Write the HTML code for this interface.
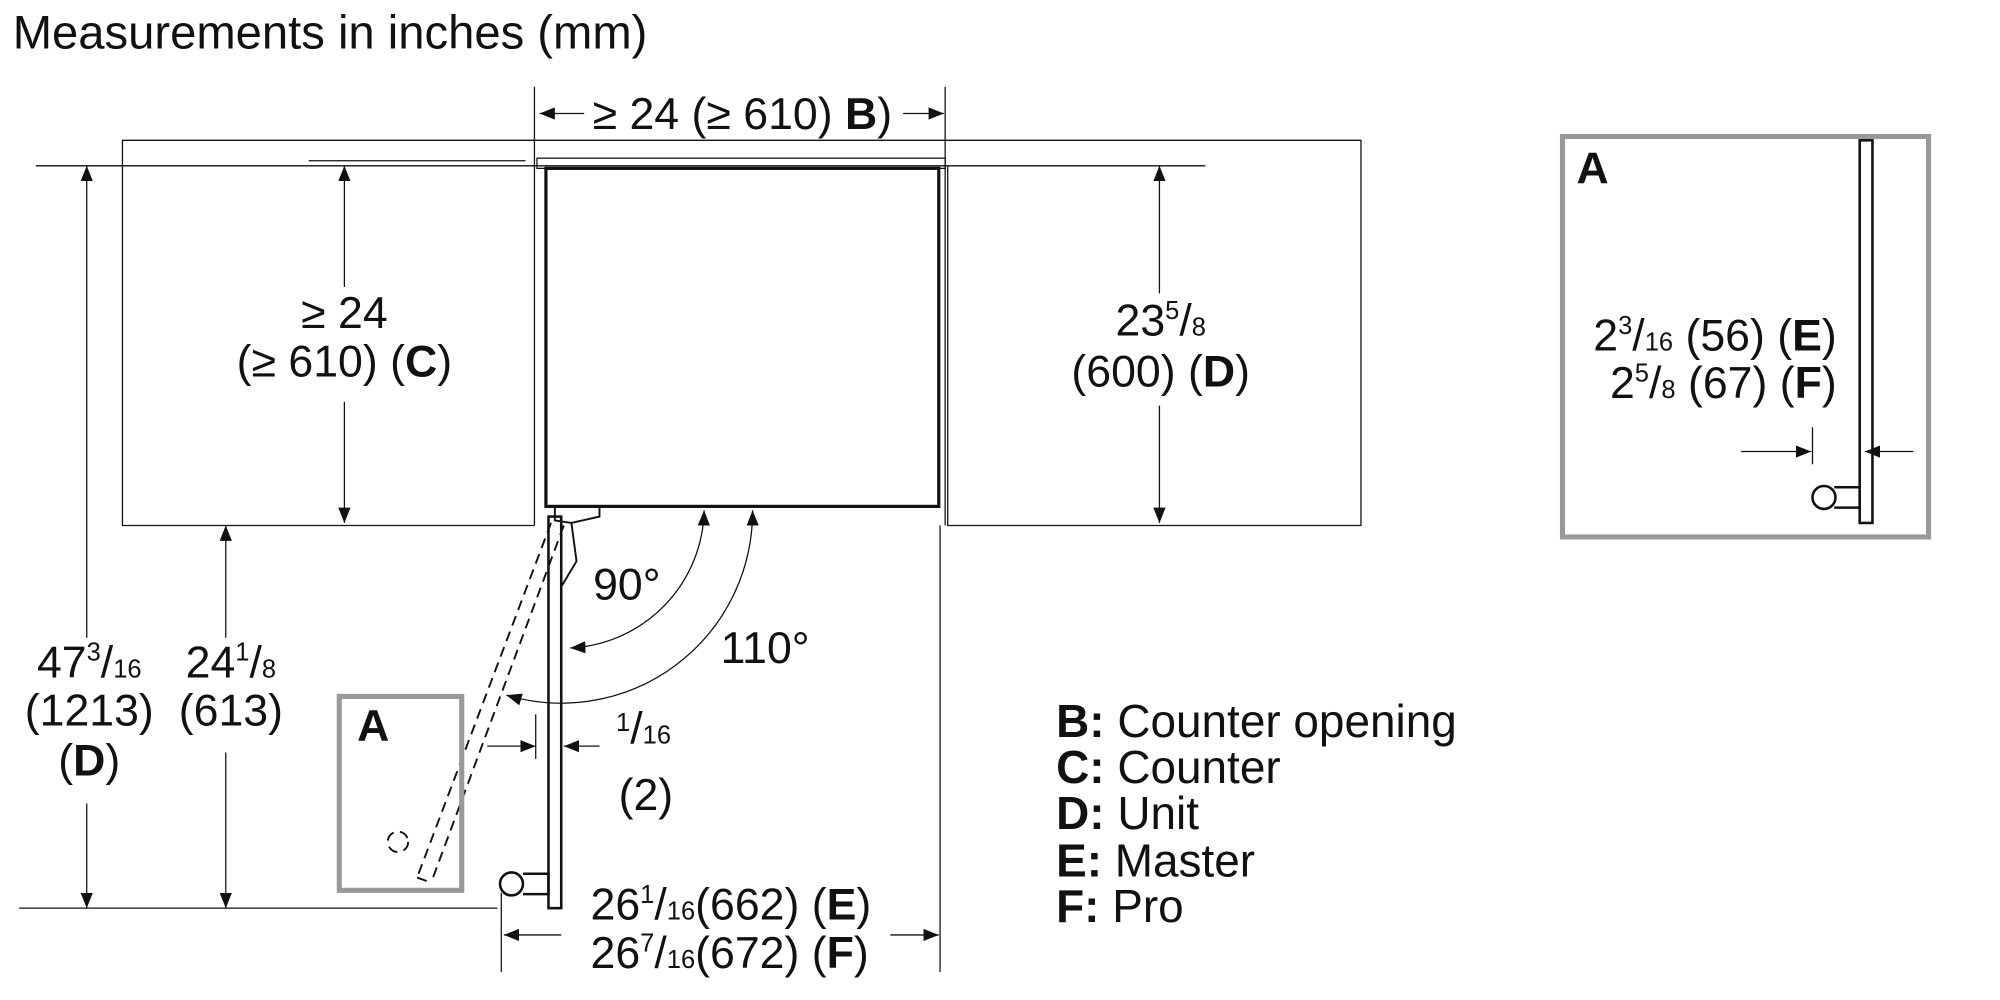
<!DOCTYPE html>
<html><head><meta charset="utf-8"><style>
html,body{margin:0;padding:0;background:#fff;}
svg{display:block;}
text{font-family:"Liberation Sans",sans-serif;fill:#111;}
.b{font-weight:bold;}
</style></head><body>
<svg width="2000" height="1000" viewBox="0 0 1568 784" preserveAspectRatio="none" xmlns="http://www.w3.org/2000/svg">
<defs>
<marker id="a" viewBox="0 0 10 10" refX="10" refY="5" markerWidth="12" markerHeight="12" markerUnits="userSpaceOnUse" orient="auto-start-reverse"><path d="M0,1 L10,5 L0,9 z" fill="#111"/></marker>
</defs>
<g stroke="#111" fill="none" stroke-width="1">
<polyline points="419,412 96,412 96,110 1067,110 1067,412 743,412 743,130"/>
<line x1="419" y1="68" x2="419" y2="412"/>
<line x1="741" y1="68" x2="741" y2="412"/>
<line x1="737" y1="412" x2="737" y2="762"/>
<line x1="28" y1="130" x2="945" y2="130"/>
<line x1="242" y1="126" x2="412" y2="126"/>
<rect x="421" y="124" width="320" height="8"/>
<rect x="428" y="132" width="308" height="265" stroke-width="2.5"/>
<line x1="423" y1="89" x2="458" y2="89" marker-start="url(#a)"/>
<line x1="708" y1="89" x2="740" y2="89" marker-end="url(#a)"/>
<line x1="270" y1="130" x2="270" y2="225" marker-start="url(#a)"/>
<line x1="270" y1="315" x2="270" y2="410" marker-end="url(#a)"/>
<line x1="909" y1="130" x2="909" y2="230" marker-start="url(#a)"/>
<line x1="909" y1="318" x2="909" y2="410" marker-end="url(#a)"/>
<line x1="68" y1="130" x2="68" y2="500" marker-start="url(#a)"/>
<line x1="68" y1="630" x2="68" y2="712" marker-end="url(#a)"/>
<line x1="177" y1="412" x2="177" y2="500" marker-start="url(#a)"/>
<line x1="177" y1="590" x2="177" y2="712" marker-end="url(#a)"/>
<line x1="15" y1="712" x2="390" y2="712"/>
<line x1="393" y1="700" x2="393" y2="762"/>
<line x1="395" y1="733" x2="440" y2="733" marker-start="url(#a)"/>
<line x1="698" y1="733" x2="736" y2="733" marker-end="url(#a)"/>
<rect x="430" y="405" width="10" height="307" stroke-width="2"/>
<path d="M410,685 h20 v16 h-20" stroke-width="2"/>
<circle cx="401" cy="693" r="9" stroke-width="2"/>
<path d="M435,397 L470,397 L470,405 L448,410 L435,408 z" stroke-width="1.5"/>
<path d="M448,410 L452,440 L440,460" stroke-width="1.5"/>
<g stroke-dasharray="8,5" stroke-width="1.5">
<line x1="432" y1="410" x2="327" y2="688"/>
<line x1="442" y1="412" x2="338" y2="692"/>
<line x1="327" y1="688" x2="338" y2="692"/>
<circle cx="312" cy="660" r="8"/>
</g>
<path d="M552,400 A110,110 0 0 1 447,508" marker-start="url(#a)" marker-end="url(#a)"/>
<path d="M590,400 A150,150 0 0 1 397,545" marker-start="url(#a)" marker-end="url(#a)"/>
<line x1="382" y1="585" x2="420" y2="585" marker-end="url(#a)"/>
<line x1="470" y1="585" x2="442" y2="585" marker-end="url(#a)"/>
<line x1="420" y1="560" x2="420" y2="595"/>
<rect x="266" y="546" width="96" height="152" stroke="#999" stroke-width="4"/>
<rect x="1225" y="107" width="287" height="314" stroke="#999" stroke-width="4"/>
<rect x="1458" y="110" width="10" height="300" stroke-width="2"/>
<path d="M1438,382 h20 v16 h-20" stroke-width="2"/>
<circle cx="1430" cy="390" r="9" stroke-width="2"/>
<line x1="1365" y1="354" x2="1420" y2="354" marker-end="url(#a)"/>
<line x1="1500" y1="354" x2="1462" y2="354" marker-end="url(#a)"/>
<line x1="1421" y1="335" x2="1421" y2="364"/>
</g>
<g font-size="35">
<text x="10" y="38" font-size="37">Measurements in inches (mm)</text>
<text x="582" y="101" text-anchor="middle">≥ 24 (≥ 610) <tspan class="b">B</tspan>)</text>
<text x="270" y="257" text-anchor="middle">≥ 24</text>
<text x="270" y="295" text-anchor="middle">(≥ 610) (<tspan class="b">C</tspan>)</text>
<text x="910" y="263" text-anchor="middle">23<tspan font-size="20" dy="-13">5</tspan><tspan dy="13">/</tspan><tspan font-size="20">8</tspan></text>
<text x="910" y="303" text-anchor="middle">(600) (<tspan class="b">D</tspan>)</text>
<text x="70" y="531" text-anchor="middle">47<tspan font-size="20" dy="-13">3</tspan><tspan dy="13">/</tspan><tspan font-size="20">16</tspan></text>
<text x="70" y="569" text-anchor="middle">(1213)</text>
<text x="70" y="608" text-anchor="middle">(<tspan class="b">D</tspan>)</text>
<text x="181" y="531" text-anchor="middle">24<tspan font-size="20" dy="-13">1</tspan><tspan dy="13">/</tspan><tspan font-size="20">8</tspan></text>
<text x="181" y="569" text-anchor="middle">(613)</text>
<text x="465" y="470">90°</text>
<text x="565" y="520">110°</text>
<text x="280" y="581" class="b">A</text>
<text x="1236" y="144" class="b">A</text>
<text x="483" y="583"><tspan font-size="20" dy="-10">1</tspan><tspan dy="10">/</tspan><tspan font-size="20">16</tspan></text>
<text x="485" y="635">(2)</text>
<text x="463" y="721">26<tspan font-size="20" dy="-13">1</tspan><tspan dy="13">/</tspan><tspan font-size="20">16</tspan>(662) (<tspan class="b">E</tspan>)</text>
<text x="463" y="759">26<tspan font-size="20" dy="-13">7</tspan><tspan dy="13">/</tspan><tspan font-size="20">16</tspan>(672) (<tspan class="b">F</tspan>)</text>
<text x="1440" y="275" text-anchor="end">2<tspan font-size="20" dy="-13">3</tspan><tspan dy="13">/</tspan><tspan font-size="20">16</tspan> (56) (<tspan class="b">E</tspan>)</text>
<text x="1440" y="312" text-anchor="end">2<tspan font-size="20" dy="-13">5</tspan><tspan dy="13">/</tspan><tspan font-size="20">8</tspan> (67) (<tspan class="b">F</tspan>)</text>
<g font-size="36">
<text x="828" y="578"><tspan class="b">B:</tspan> Counter opening</text>
<text x="828" y="614"><tspan class="b">C:</tspan> Counter</text>
<text x="828" y="650"><tspan class="b">D:</tspan> Unit</text>
<text x="828" y="687"><tspan class="b">E:</tspan> Master</text>
<text x="828" y="723"><tspan class="b">F:</tspan> Pro</text>
</g>
</g>
</svg>
</body></html>
